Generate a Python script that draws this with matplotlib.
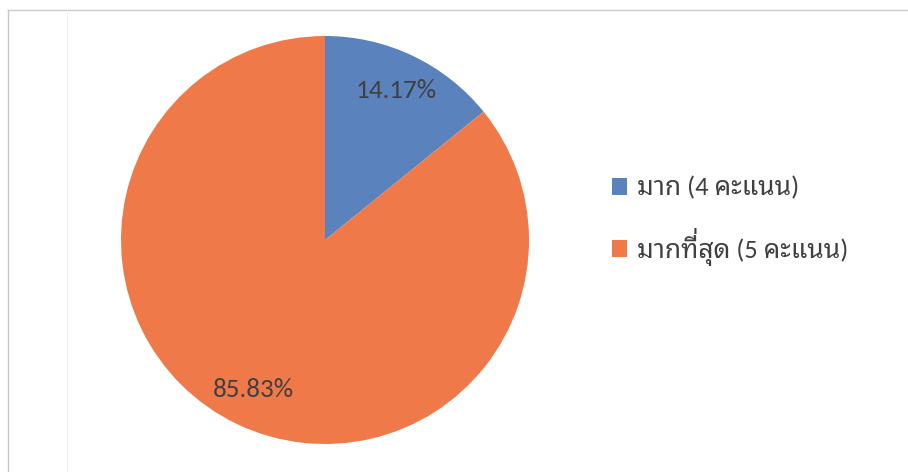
import matplotlib
matplotlib.use("Agg")
import matplotlib.pyplot as plt
from matplotlib import font_manager
from matplotlib.lines import Line2D

# ข้อมูลของแผนภูมิวงกลม
ระดับ = ["มาก (4 คะแนน)", "มากที่สุด (5 คะแนน)"]
ร้อยละ = [14.17, 85.83]
สี = ["#5A82BC", "#F0794A"]

# เลือกฟอนต์ที่มีอยู่ในเครื่อง (ตัวเลข + ภาษาไทย)
มีอยู่ = {f.name for f in font_manager.fontManager.ttflist}
ฟอนต์ = [f for f in ["Carlito", "Noto Sans Thai Looped", "Noto Sans Thai", "Lato", "DejaVu Sans"] if f in มีอยู่]
plt.rcParams["font.family"] = ฟอนต์

fig = plt.figure(figsize=(9.08, 4.72), dpi=100)
fig.patch.set_facecolor("white")

# กรอบบาง ๆ ด้านซ้ายและด้านบน
fig.add_artist(Line2D([8 / 908, 8 / 908], [0, 1 - 10 / 472], color="#C8C8C8", lw=1))
fig.add_artist(Line2D([8 / 908, 1], [1 - 10 / 472, 1 - 10 / 472], color="#C8C8C8", lw=1))
fig.add_artist(Line2D([67 / 908, 67 / 908], [0, 1 - 10 / 472], color="#EEEEEE", lw=0.8))

ax = fig.add_axes([121 / 908, 28 / 472, 408 / 908, 408 / 472])
wedges, _, autotexts = ax.pie(
    ร้อยละ,
    colors=สี,
    startangle=90,
    counterclock=False,
    autopct="%.2f%%",
    pctdistance=0.81,
    textprops={"fontsize": 19.5, "color": "#404040"},
)
ax.set_xlim(-1, 1)
ax.set_ylim(-1, 1)
ax.set_aspect("equal")

# คำอธิบายสัญลักษณ์ด้านขวา
ขนาดอักษร = 19
leg = fig.legend(
    wedges,
    ระดับ,
    loc="center left",
    bbox_to_anchor=(601 / 908, 1 - 221 / 472),
    borderaxespad=0,
    frameon=False,
    fontsize=ขนาดอักษร,
    labelcolor="#404040",
    handlelength=0.6,
    handleheight=0.6,
    handletextpad=0.35,
    labelspacing=1.33,
)

# matplotlib ไม่จัดตำแหน่งวรรณยุกต์ไทย ไม้เอกจึงจมทับสระอี
# วาดไม้เอกซ้ำให้อยู่สูงขึ้นเหนือสระ
fig.canvas.draw()
renderer = fig.canvas.get_renderer()
for t in leg.get_texts():
    s = t.get_text()
    i = s.find("ี่")
    if i < 0:
        continue
    bb = t.get_window_extent(renderer)
    _, _, d = renderer.get_text_width_height_descent(s, t.get_fontproperties(), ismath=False)
    w, _, _ = renderer.get_text_width_height_descent(s[: i + 1], t.get_fontproperties(), ismath=False)
    fig.text(
        (bb.x0 + w + 1) / fig.bbox.width,
        (bb.y0 + d + 7) / fig.bbox.height,
        "่",
        fontsize=ขนาดอักษร,
        color="#404040",
        va="baseline",
        ha="left",
    )

fig.savefig("out.png", dpi=100)
